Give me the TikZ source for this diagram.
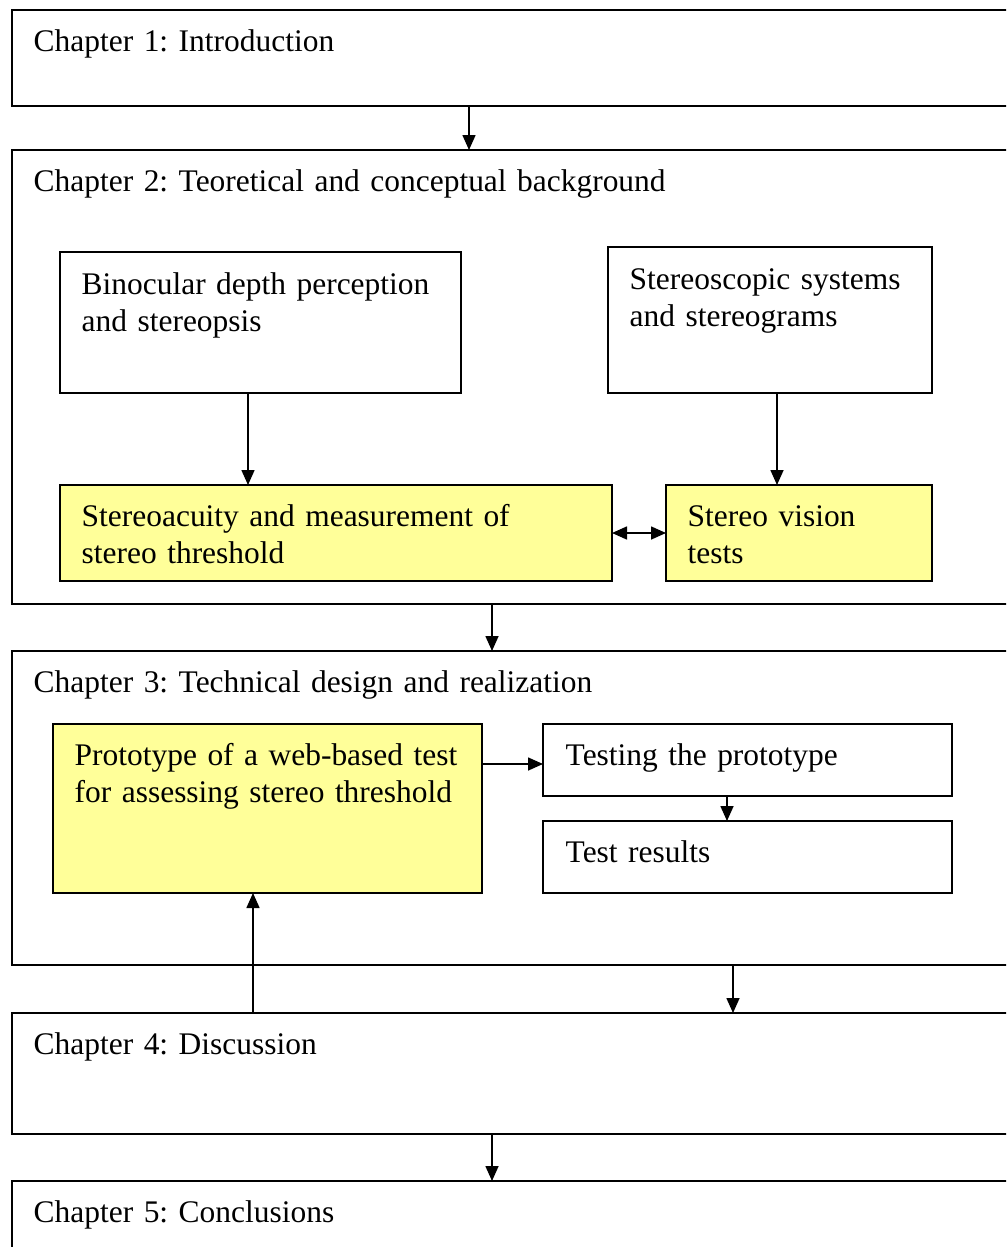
\documentclass[tikz,border=0pt]{standalone}
\usepackage{fontspec}
\setmainfont{Liberation Serif}
\usetikzlibrary{arrows.meta}
\definecolor{noteyellow}{RGB}{255,255,153}
\frenchspacing
\begin{document}
\begin{tikzpicture}[every node/.style={font=\fontsize{8.95}{10.53}\selectfont},
  chapbox/.style={draw, line width=0.6pt, anchor=north west, minimum width=10.5cm, inner sep=0pt, outer sep=0pt},
  topicbox/.style={draw, line width=0.55pt, anchor=north west, inner sep=0pt, outer sep=0pt},
  hilite/.style={topicbox, fill=noteyellow},
  txt/.style={anchor=base west, inner sep=0pt, text width=8cm, align=left},
  arr/.style={line width=0.45pt, -{Triangle[length=0.15cm, width=0.13cm]}},
  darr/.style={line width=0.45pt, {Triangle[length=0.15cm, width=0.13cm]}-{Triangle[length=0.15cm, width=0.13cm]}}]
\useasboundingbox (0,0) rectangle (10.06,-12.47);
\clip (0,0) rectangle (10.06,-12.47);
% chapter frames
\node[chapbox, minimum height=0.96cm] (ch1) at (0.12,-0.10) {};
\node[chapbox, minimum height=4.54cm] (ch2) at (0.12,-1.50) {};
\node[chapbox, minimum height=3.14cm] (ch3) at (0.12,-6.51) {};
\node[chapbox, minimum height=1.21cm] (ch4) at (0.12,-10.13) {};
\node[chapbox, minimum height=1.00cm] (ch5) at (0.12,-11.81) {};
% boxes inside chapter 2
\node[topicbox, minimum width=4.01cm, minimum height=1.41cm] (bino) at (0.60,-2.52) {};
\node[topicbox, minimum width=3.24cm, minimum height=1.46cm] (stsys) at (6.08,-2.47) {};
\node[hilite, minimum width=5.52cm, minimum height=0.96cm] (acuity) at (0.60,-4.85) {};
\node[hilite, minimum width=2.66cm, minimum height=0.96cm] (vision) at (6.66,-4.85) {};
% boxes inside chapter 3
\node[hilite, minimum width=4.29cm, minimum height=1.69cm] (proto) at (0.53,-7.24) {};
\node[topicbox, minimum width=4.09cm, minimum height=0.72cm] (testing) at (5.43,-7.24) {};
\node[topicbox, minimum width=4.09cm, minimum height=0.72cm] (results) at (5.43,-8.21) {};
% texts
\node[txt] (ch1txt) at ([shift={(0.21,-0.41)}]ch1.north west) {Chapter 1: Introduction};
\node[txt] (ch2txt) at ([shift={(0.21,-0.41)}]ch2.north west) {Chapter 2: Teoretical and conceptual background};
\node[txt] (ch3txt) at ([shift={(0.21,-0.41)}]ch3.north west) {Chapter 3: Technical design and realization};
\node[txt] (ch4txt) at ([shift={(0.21,-0.41)}]ch4.north west) {Chapter 4: Discussion};
\node[txt] (ch5txt) at ([shift={(0.21,-0.41)}]ch5.north west) {Chapter 5: Conclusions};
\node[txt] (binotxt) at ([shift={(0.21,-0.42)}]bino.north west) {Binocular depth perception\\and stereopsis};
\node[txt] (stsystxt) at ([shift={(0.21,-0.42)}]stsys.north west) {Stereoscopic systems\\and stereograms};
\node[txt] (acuitytxt) at ([shift={(0.21,-0.41)}]acuity.north west) {Stereoacuity and measurement of\\stereo threshold};
\node[txt] (visiontxt) at ([shift={(0.21,-0.41)}]vision.north west) {Stereo vision\\tests};
\node[txt] (prototxt) at ([shift={(0.21,-0.41)}]proto.north west) {Prototype of a web-based test\\for assessing stereo threshold};
\node[txt] (testingtxt) at ([shift={(0.22,-0.41)}]testing.north west) {Testing the prototype};
\node[txt] (resultstxt) at ([shift={(0.22,-0.41)}]results.north west) {Test results};
% connectors
\draw[arr] ([xshift=4.57cm]ch1.south west) -- ([xshift=4.57cm]ch2.north west);
\draw[arr] ([xshift=1.88cm]bino.south west) -- ([xshift=1.88cm]acuity.north west);
\draw[arr] ([xshift=1.69cm]stsys.south west) -- ([xshift=1.11cm]vision.north west);
\draw[darr] (acuity.east) -- (vision.west);
\draw[arr] ([xshift=4.80cm]ch2.south west) -- ([xshift=4.80cm]ch3.north west);
\draw[arr] ([yshift=-0.40cm]proto.north east) -- ([yshift=-0.40cm]testing.north west);
\draw[arr] ([xshift=1.84cm]testing.south west) -- ([xshift=1.84cm]results.north west);
\draw[arr] ([xshift=7.21cm]ch3.south west) -- ([xshift=7.21cm]ch4.north west);
\draw[arr] ([xshift=2.41cm]ch4.north west) -- ([xshift=2.00cm]proto.south west);
\draw[arr] ([xshift=4.80cm]ch4.south west) -- ([xshift=4.80cm]ch5.north west);
\end{tikzpicture}
\end{document}
